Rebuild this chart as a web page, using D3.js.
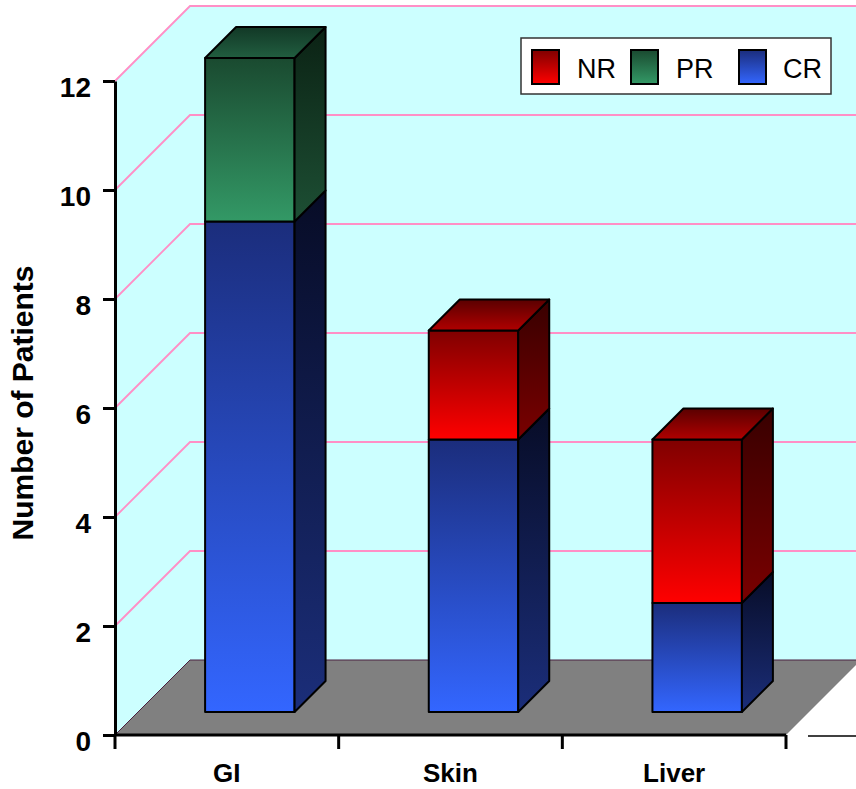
<!DOCTYPE html>
<html>
<head>
<meta charset="utf-8">
<script src="https://cdn.jsdelivr.net/npm/d3@7"></script>
<style>
  body { margin: 0; background: #ffffff; }
  svg { display: block; font-family: "Liberation Sans", Arial, sans-serif; }
</style>
</head>
<body>
<svg id="chart" width="856" height="789"></svg>
<script>
// Response by organ: patients per category, stacked CR / PR / NR
const categories = ["GI", "Skin", "Liver"];
const seriesKeys = ["CR", "PR", "NR"];
const crValues = [9, 5, 2];
const prValues = [3, 0, 0];
const nrValues = [0, 2, 3];
const yTicks = [0, 2, 4, 6, 8, 10, 12];
const legendOrder = ["NR", "PR", "CR"];
const yTitle = "Number of Patients";

const rows = categories.map((c, i) => ({ cat: c, CR: crValues[i], PR: prValues[i], NR: nrValues[i] }));

const svg = d3.select("#chart");
const W = 856;

// front plane scales; depth is drawn as an oblique (+d, -d) offset
const x = d3.scaleBand().domain(categories).range([115, 786]).padding(0);
const y = d3.scaleLinear().domain([0, 12]).range([735, 81]);
const DEPTH = 75;               // wall depth
const BAR_D0 = 23, BAR_D1 = 54; // bar front / back depth
const barW = x.bandwidth() * 0.4;
const xL = x.range()[0], xR = x.range()[1];

const P = (xf, v, d) => [xf + d, y(v) - d];
const poly = pts => pts.map(p => p.join(",")).join(" ");

// colour ramps per series: [front top, front bottom, side top, side bottom, top back, top front]
const palette = {
  CR: ["#1b2d7c", "#3366ff", "#070c26", "#1b2e7a", "#142260", "#2a4cc0"],
  PR: ["#1a4a30", "#339966", "#0b2214", "#1d4f34", "#123826", "#215e40"],
  NR: ["#800000", "#ff0000", "#380000", "#7a0000", "#5a0000", "#b00000"]
};

const defs = svg.append("defs");
function vGrad(id, c0, c1) {
  const g = defs.append("linearGradient").attr("id", id)
    .attr("x1", 0).attr("y1", 0).attr("x2", 0).attr("y2", 1);
  g.append("stop").attr("offset", "0%").attr("stop-color", c0);
  g.append("stop").attr("offset", "100%").attr("stop-color", c1);
}
seriesKeys.forEach(k => {
  const p = palette[k];
  vGrad("front-" + k, p[0], p[1]);
  vGrad("side-" + k, p[2], p[3]);
  vGrad("top-" + k, p[4], p[5]);
});

// walls
svg.append("polygon")
  .attr("points", poly([P(xL, 0, 0), P(xL, 0, DEPTH), P(xL, 12, DEPTH), P(xL, 12, 0)]))
  .attr("fill", "#ccffff");
svg.append("polygon")
  .attr("points", poly([P(xL, 0, DEPTH), P(xR, 0, DEPTH), P(xR, 12, DEPTH), P(xL, 12, DEPTH)]))
  .attr("fill", "#ccffff");

// gridlines on side and back walls
const grid = svg.append("g").attr("stroke", "#ff8fc6").attr("stroke-width", 1.8).attr("fill", "none");
yTicks.filter(t => t > 0).forEach(t => {
  grid.append("polyline")
    .attr("points", poly([P(xL, t, 0), P(xL, t, DEPTH), P(xR + 10, t, DEPTH)]));
});

// floor
svg.append("polygon")
  .attr("points", poly([P(xL, 0, 0), P(xR, 0, 0), P(xR, 0, DEPTH), P(xL, 0, DEPTH)]))
  .attr("fill", "#808080");
svg.append("polyline")
  .attr("points", poly([P(xL, 0, 0), P(xL, 0, DEPTH), P(xR + 10, 0, DEPTH)]))
  .attr("fill", "none").attr("stroke", "#4a2040").attr("stroke-width", 1);

// stacked 3D bars
const stacked = d3.stack().keys(seriesKeys)(rows);
const totals = rows.map(r => seriesKeys.reduce((s, k) => s + r[k], 0));
const bars = svg.append("g")
  .attr("stroke", "#000").attr("stroke-width", 2).attr("stroke-linejoin", "round");

categories.forEach((c, i) => {
  const xlF = x(c) + (x.bandwidth() - barW) / 2;
  const xrF = xlF + barW;
  stacked.forEach(layer => {
    const k = layer.key;
    const [v0, v1] = layer[i];
    if (v1 - v0 <= 0) return;
    const g = bars.append("g");
    g.append("rect")
      .attr("x", xlF + BAR_D0).attr("y", y(v1) - BAR_D0)
      .attr("width", barW).attr("height", y(v0) - y(v1))
      .attr("fill", `url(#front-${k})`);
    g.append("polygon")
      .attr("points", poly([P(xrF, v0, BAR_D0), P(xrF, v0, BAR_D1), P(xrF, v1, BAR_D1), P(xrF, v1, BAR_D0)]))
      .attr("fill", `url(#side-${k})`);
    if (v1 === totals[i]) {
      g.append("polygon")
        .attr("points", poly([P(xlF, v1, BAR_D1), P(xrF, v1, BAR_D1), P(xrF, v1, BAR_D0), P(xlF, v1, BAR_D0)]))
        .attr("fill", `url(#top-${k})`);
    }
  });
});

// y axis
const yAxis = svg.append("g")
  .attr("transform", `translate(${xL},0)`)
  .call(d3.axisLeft(y).tickValues(yTicks).tickFormat(d3.format("d"))
    .tickSize(12).tickSizeOuter(0).tickPadding(12));
yAxis.select(".domain").attr("stroke", "#000").attr("stroke-width", 3);
yAxis.selectAll(".tick line").attr("stroke", "#000").attr("stroke-width", 3);
yAxis.selectAll(".tick text")
  .attr("font-family", "'Liberation Sans', Arial, sans-serif")
  .attr("font-size", 28).attr("font-weight", "bold").attr("fill", "#000")
  .attr("dy", "0.55em");

// x axis: baseline, boundary ticks, centred category labels
const xAxis = svg.append("g");
xAxis.append("line")
  .attr("x1", xL).attr("x2", xR).attr("y1", y(0)).attr("y2", y(0))
  .attr("stroke", "#000").attr("stroke-width", 3);
categories.map(c => x(c)).concat([xR]).forEach(tx => {
  xAxis.append("line")
    .attr("x1", tx).attr("x2", tx).attr("y1", y(0)).attr("y2", y(0) + 14)
    .attr("stroke", "#000").attr("stroke-width", 3);
});
xAxis.selectAll("text.cat").data(categories).join("text")
  .attr("class", "cat")
  .attr("x", c => x(c) + x.bandwidth() / 2).attr("y", 782)
  .attr("text-anchor", "middle")
  .attr("font-size", 26).attr("font-weight", "bold").attr("fill", "#000")
  .text(c => c);
svg.append("line")
  .attr("x1", 808).attr("x2", W).attr("y1", 736).attr("y2", 736)
  .attr("stroke", "#000").attr("stroke-width", 1.5);

// y axis title
svg.append("text")
  .attr("transform", "translate(33,403) rotate(-90)")
  .attr("text-anchor", "middle")
  .attr("font-size", 30).attr("font-weight", "bold").attr("fill", "#000")
  .text(yTitle);

// legend
const legend = svg.append("g");
legend.append("rect")
  .attr("x", 521).attr("y", 38).attr("width", 310).attr("height", 56)
  .attr("fill", "#fff").attr("stroke", "#333").attr("stroke-width", 1.5);
const legendX = { NR: [532, 577], PR: [631, 676], CR: [739, 783] };
legendOrder.forEach(k => {
  legend.append("rect")
    .attr("x", legendX[k][0]).attr("y", 50).attr("width", 27).attr("height", 34)
    .attr("fill", `url(#front-${k})`).attr("stroke", "#000").attr("stroke-width", 2);
  legend.append("text")
    .attr("x", legendX[k][1]).attr("y", 78)
    .attr("font-size", 27).attr("fill", "#000")
    .text(k);
});
</script>
</body>
</html>
